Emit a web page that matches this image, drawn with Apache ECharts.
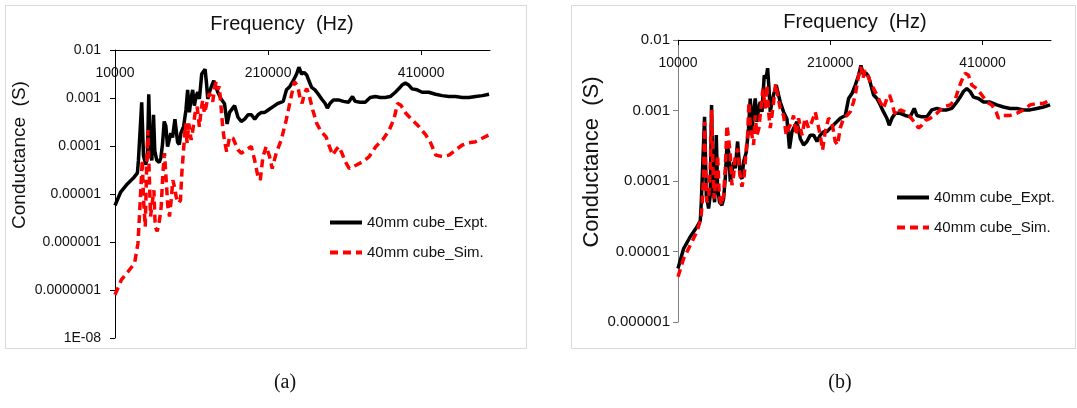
<!DOCTYPE html>
<html>
<head>
<meta charset="utf-8">
<script src="https://cdn.jsdelivr.net/npm/echarts@6/dist/echarts.min.js"></script>
<style>
  html, body { margin: 0; padding: 0; background: #ffffff; }
  #chart { width: 1077px; height: 408px; }
</style>
</head>
<body>
<div id="chart"></div>
<script>
// Measured conductance of the 40 mm cube (shared by both panels)
const freqExpt = [10000, 17400, 26100, 35000, 39300, 40600, 43200, 44900, 47200, 50200, 52400, 54100, 56000, 58100, 60300, 62000, 64600, 67800, 69900, 72100, 74300, 76400, 78700, 80900, 83000, 85200, 88300, 91800, 94000, 96100, 99700, 102700, 104900, 107200, 109300, 111500, 113700, 115800, 118100, 120300, 123300, 125900, 127700, 129500, 131200, 133400, 135500, 139100, 142100, 144300, 148700, 153100, 156500, 159700, 162000, 166300, 170700, 175000, 179400, 183800, 188200, 192600, 196900, 201300, 205700, 210100, 216600, 223200, 229800, 234100, 238500, 242900, 247300, 250300, 253800, 257300, 260400, 263400, 266900, 271300, 275700, 280000, 284400, 287500, 291000, 295400, 301900, 308500, 315100, 320300, 323800, 330400, 336900, 343500, 350100, 356600, 363200, 369700, 376300, 380700, 385000, 389400, 393800, 398200, 404700, 411300, 420000, 428800, 437500, 446300, 455000, 463800, 472500, 481300, 490000, 498800];
const condExpt = [5.75e-6, 1.10e-5, 1.62e-5, 2.24e-5, 2.75e-5, 5.0e-5, 5.0e-5, 8.13e-4, 6.31e-5, 4.07e-5, 6.31e-5, 1.20e-3, 7.94e-5, 5.0e-5, 4.47e-4, 7.94e-5, 5.0e-5, 4.57e-5, 5.62e-5, 1.10e-4, 3.24e-4, 2.63e-4, 9.77e-5, 1.35e-4, 1.86e-4, 1.51e-4, 3.63e-4, 1.20e-4, 1.07e-4, 1.86e-4, 2.57e-4, 5.62e-4, 1.48e-3, 5.01e-4, 9.55e-4, 1.48e-3, 6.92e-4, 1.07e-3, 1.32e-3, 9.55e-4, 3.16e-3, 2.88e-3, 3.98e-3, 2.09e-3, 9.55e-4, 1.32e-3, 1.66e-3, 2.29e-3, 1.66e-3, 1.32e-3, 9.55e-4, 7.59e-4, 2.88e-4, 5.01e-4, 5.01e-4, 6.92e-4, 3.98e-4, 3.24e-4, 3.63e-4, 4.47e-4, 4.47e-4, 3.63e-4, 4.47e-4, 5.01e-4, 5.01e-4, 5.62e-4, 6.61e-4, 7.76e-4, 8.51e-4, 1.48e-3, 1.74e-3, 2.29e-3, 3.16e-3, 4.37e-3, 3.16e-3, 3.39e-3, 3.02e-3, 2.29e-3, 1.66e-3, 1.48e-3, 1.20e-3, 9.55e-4, 7.76e-4, 6.17e-4, 7.76e-4, 9.12e-4, 9.12e-4, 8.51e-4, 8.13e-4, 1.07e-3, 8.51e-4, 8.13e-4, 8.13e-4, 1.02e-3, 1.07e-3, 1.02e-3, 1.02e-3, 1.07e-3, 1.32e-3, 1.55e-3, 1.86e-3, 2.04e-3, 1.86e-3, 1.55e-3, 1.48e-3, 1.32e-3, 1.32e-3, 1.20e-3, 1.12e-3, 1.07e-3, 1.07e-3, 1.02e-3, 1.02e-3, 1.07e-3, 1.12e-3, 1.20e-3];

// Simulated conductance, panel (a)
const freqSimA = [10000, 18250, 26940, 35620, 39970, 42140, 44310, 45610, 47350, 49520, 51690, 53000, 54730, 56470, 58640, 60810, 62550, 65160, 68200, 70370, 72540, 74710, 76880, 79050, 81230, 83400, 85570, 87740, 89910, 92950, 95560, 97290, 99900, 102070, 104240, 106410, 109460, 111630, 114670, 117280, 120310, 122490, 124660, 126830, 129000, 131170, 133340, 135510, 137680, 139860, 142030, 144200, 146370, 148540, 150710, 152880, 155920, 159800, 164200, 170700, 175000, 181600, 188100, 192400, 196800, 199800, 203300, 207600, 212000, 215400, 220600, 227200, 233700, 240200, 244500, 248900, 251900, 254500, 257600, 260600, 264100, 268400, 273600, 279300, 285800, 290100, 294500, 298800, 302300, 306600, 311000, 316200, 324900, 333600, 342200, 350900, 359600, 368300, 374800, 379200, 383500, 390000, 398700, 407400, 416100, 422600, 429100, 437800, 446500, 455200, 463900, 472500, 481200, 489900, 498600];
const condSimA = [7.94e-8, 1.62e-7, 2.40e-7, 3.63e-7, 9.33e-7, 3.98e-6, 1.95e-5, 5.13e-5, 7.41e-6, 2.09e-6, 6.03e-5, 2.14e-4, 2.69e-5, 3.39e-6, 6.46e-6, 1.20e-5, 2.09e-6, 1.66e-6, 2.88e-6, 5.50e-6, 2.69e-5, 7.08e-5, 1.95e-5, 5.50e-6, 3.39e-6, 7.41e-6, 1.95e-5, 1.41e-5, 8.71e-6, 6.46e-6, 7.41e-6, 2.69e-5, 9.77e-5, 2.95e-4, 1.15e-4, 2.95e-4, 1.33e-4, 2.14e-4, 4.79e-4, 6.61e-4, 2.51e-4, 5.62e-4, 9.12e-4, 4.79e-4, 6.61e-4, 9.77e-4, 1.26e-3, 1.07e-3, 8.32e-4, 1.48e-3, 2.19e-3, 1.48e-3, 1.74e-3, 6.61e-4, 2.51e-4, 1.33e-4, 7.59e-5, 1.55e-4, 1.45e-4, 8.32e-5, 7.08e-5, 8.32e-5, 9.77e-5, 5.13e-5, 2.29e-5, 1.95e-5, 6.03e-5, 9.77e-5, 6.03e-5, 3.39e-5, 7.08e-5, 1.33e-4, 3.47e-4, 1.07e-3, 2.19e-3, 1.74e-3, 9.77e-4, 7.76e-4, 1.26e-3, 1.58e-3, 1.07e-3, 5.62e-4, 2.95e-4, 2.00e-4, 1.55e-4, 9.77e-5, 6.46e-5, 8.32e-5, 9.77e-5, 7.08e-5, 4.68e-5, 3.39e-5, 3.98e-5, 4.68e-5, 6.03e-5, 9.77e-5, 1.33e-4, 2.14e-4, 3.80e-4, 7.76e-4, 7.08e-4, 4.79e-4, 3.47e-4, 2.51e-4, 1.70e-4, 1.15e-4, 6.46e-5, 6.03e-5, 6.46e-5, 8.32e-5, 1.05e-4, 1.17e-4, 1.23e-4, 1.45e-4, 1.70e-4];

// Simulated conductance, panel (b)
const freqSimB = [10000, 17400, 26150, 34900, 40160, 41910, 43660, 44970, 46290, 48040, 50230, 52410, 54160, 55920, 57670, 59860, 62040, 64230, 66860, 69920, 72110, 74300, 76490, 78680, 80860, 83050, 85240, 88740, 90930, 94000, 97060, 99690, 101400, 103200, 104900, 107100, 109300, 111500, 113700, 116300, 118900, 121600, 124600, 126800, 129000, 131200, 133400, 135600, 138200, 140800, 144300, 148700, 152200, 155300, 159600, 161800, 165300, 168400, 172800, 177100, 181500, 185900, 190300, 196800, 199900, 203400, 207800, 212200, 216500, 219600, 223100, 227500, 231900, 236200, 240600, 243700, 245900, 248100, 250200, 252900, 255900, 259000, 262500, 266900, 271300, 275600, 280000, 284400, 287900, 291000, 294000, 297500, 301900, 308500, 315000, 321600, 326000, 330300, 334700, 341300, 350000, 358800, 367500, 374100, 378500, 382900, 387200, 391600, 396000, 402600, 409100, 415700, 422300, 427900, 431000, 437600, 446300, 455100, 463800, 472600, 481300, 490100, 498900];
const condSimB = [4.37e-6, 7.94e-6, 1.23e-5, 1.91e-5, 2.95e-5, 5.01e-5, 1.20e-4, 6.92e-4, 1.20e-4, 5.01e-5, 5.62e-5, 1.51e-4, 1.02e-3, 1.51e-4, 5.62e-5, 1.10e-4, 2.34e-4, 6.31e-5, 4.57e-5, 6.31e-5, 1.51e-4, 6.17e-4, 3.98e-4, 2.34e-4, 8.71e-5, 1.20e-4, 2.34e-4, 2.88e-4, 1.35e-4, 8.32e-5, 1.20e-4, 2.88e-4, 4.47e-4, 1.32e-3, 6.17e-4, 4.47e-4, 3.24e-4, 8.51e-4, 4.47e-4, 5.62e-4, 1.07e-3, 2.04e-3, 1.07e-3, 2.29e-3, 9.55e-4, 5.62e-4, 8.51e-4, 1.32e-3, 2.40e-3, 1.66e-3, 1.07e-3, 8.51e-4, 4.47e-4, 5.62e-4, 6.92e-4, 8.51e-4, 4.47e-4, 7.76e-4, 4.47e-4, 7.76e-4, 5.62e-4, 6.92e-4, 9.55e-4, 4.47e-4, 2.75e-4, 5.01e-4, 7.76e-4, 6.92e-4, 3.63e-4, 3.24e-4, 5.62e-4, 7.76e-4, 8.51e-4, 9.55e-4, 1.32e-3, 1.86e-3, 2.57e-3, 3.55e-3, 4.17e-3, 2.88e-3, 3.72e-3, 3.16e-3, 2.57e-3, 2.04e-3, 1.66e-3, 1.32e-3, 1.07e-3, 1.48e-3, 1.66e-3, 1.32e-3, 9.55e-4, 8.51e-4, 1.02e-3, 9.55e-4, 8.13e-4, 6.61e-4, 5.62e-4, 6.17e-4, 7.24e-4, 7.76e-4, 9.12e-4, 1.12e-3, 1.20e-3, 1.41e-3, 2.04e-3, 2.69e-3, 3.39e-3, 3.16e-3, 2.29e-3, 2.04e-3, 1.66e-3, 1.32e-3, 1.20e-3, 9.55e-4, 7.76e-4, 8.51e-4, 8.51e-4, 9.12e-4, 1.02e-3, 1.20e-3, 1.26e-3, 1.26e-3, 1.41e-3];

// Axis ticks and labels
const xTickValues = [10000, 210000, 410000];
const yTickLabelsA = ['1E-08', '0.0000001', '0.000001', '0.00001', '0.0001', '0.001', '0.01'];   // 1e-8 .. 1e-2
const yTickLabelsB = ['0.000001', '0.00001', '0.0001', '0.001', '0.01'];                       // 1e-6 .. 1e-2
const seriesNames = ['40mm cube_Expt.', '40mm cube_Sim.'];
const panelCaptions = ['(a)', '(b)'];
const xTitle = 'Frequency  (Hz)';
const yTitle = 'Conductance  (S)';

const FONT = 'Liberation Sans, Arial, sans-serif';

function zip(xs, ys) { return xs.map((x, i) => [x, ys[i]]); }

function xAxisFor(gridIndex) {
  return {
    gridIndex, type: 'value', position: 'top',
    min: 10000, max: 500000, interval: 200000,
    axisLine: { show: true, onZero: false, lineStyle: { color: '#000', width: 1 } },
    axisTick: { show: true, inside: true, length: 5, customValues: xTickValues, lineStyle: { color: '#000' } },
    axisLabel: {
      inside: true, margin: 16, customValues: xTickValues, color: '#111', fontFamily: FONT, fontSize: 14,
      formatter: v => String(Math.round(v))
    },
    splitLine: { show: false }
  };
}

function yAxisFor(gridIndex, minExp, labels, opts) {
  return {
    gridIndex, type: 'log', logBase: 10,
    min: Math.pow(10, minExp), max: 0.01,
    axisLine: { show: true, lineStyle: { color: opts.lineColor, width: 1 } },
    axisTick: { show: true, inside: false, length: 5, lineStyle: { color: opts.lineColor } },
    axisLabel: {
      margin: opts.margin, color: '#111', fontFamily: FONT, fontSize: opts.fontSize,
      formatter: v => labels[Math.round(Math.log10(v)) - minExp]
    },
    splitLine: { show: false }
  };
}

const exptStyle = { color: '#000000', width: 3.5 };
const simStyle = { color: '#ff0000', width: 3.5, type: [8, 5] };

function seriesFor(idx, simFreq, simCond) {
  return [
    { name: seriesNames[0], type: 'line', xAxisIndex: idx, yAxisIndex: idx, showSymbol: false, symbol: 'none',
      data: zip(freqExpt, condExpt), lineStyle: exptStyle, itemStyle: { color: '#000000' }, animation: false, z: 2 },
    { name: seriesNames[1], type: 'line', xAxisIndex: idx, yAxisIndex: idx, showSymbol: false, symbol: 'none',
      data: zip(simFreq, simCond), lineStyle: simStyle, itemStyle: { color: '#ff0000' }, animation: false, z: 3 }
  ];
}

// Legend keys show only the line sample (the marker is made transparent)
function legendAt(left, top) {
  return {
    orient: 'vertical', left, top, padding: 0,
    itemWidth: 32, itemHeight: 14, itemGap: 15,
    data: seriesNames, selectedMode: false,
    itemStyle: { opacity: 0 },
    lineStyle: { width: 4 },
    textStyle: { color: '#111', fontFamily: FONT, fontSize: 15 }
  };
}

function text(x, y, str, size, extra) {
  return Object.assign({
    type: 'text', x, y, silent: true,
    style: { text: str, font: size + 'px ' + FONT, fill: '#111', textAlign: 'center', textVerticalAlign: 'middle' }
  }, extra || {});
}

const chart = echarts.init(document.getElementById('chart'), null, { renderer: 'canvas' });
chart.setOption({
  backgroundColor: '#ffffff',
  animation: false,
  grid: [
    { left: 115, top: 50, width: 375, height: 288 },
    { left: 678, top: 40, width: 373, height: 282 }
  ],
  xAxis: [xAxisFor(0), xAxisFor(1)],
  yAxis: [
    yAxisFor(0, -8, yTickLabelsA, { lineColor: '#000', margin: 14, fontSize: 14 }),
    yAxisFor(1, -6, yTickLabelsB, { lineColor: '#7f7f7f', margin: 8, fontSize: 15 })
  ],
  legend: [legendAt(328, 215), legendAt(895, 190)],
  series: [].concat(seriesFor(0, freqSimA, condSimA), seriesFor(1, freqSimB, condSimB)),
  graphic: [
    { type: 'rect', shape: { x: 5.5, y: 5.5, width: 521, height: 343 }, style: { fill: 'none', stroke: '#d9d9d9', lineWidth: 1 }, silent: true, z: -1 },
    { type: 'rect', shape: { x: 571.5, y: 5.5, width: 504, height: 343 }, style: { fill: 'none', stroke: '#d9d9d9', lineWidth: 1 }, silent: true, z: -1 },
    text(282, 24, xTitle, 20),
    text(855, 22, xTitle, 20),
    text(20, 155, yTitle, 19, { rotation: Math.PI / 2 }),
    text(592, 162, yTitle, 22, { rotation: Math.PI / 2 }),
    {
      type: 'text', x: 285, y: 383, silent: true,
      style: { text: panelCaptions[0], font: '20px "Liberation Serif", serif', fill: '#111', textAlign: 'center', textVerticalAlign: 'middle' }
    },
    {
      type: 'text', x: 840, y: 383, silent: true,
      style: { text: panelCaptions[1], font: '20px "Liberation Serif", serif', fill: '#111', textAlign: 'center', textVerticalAlign: 'middle' }
    }
  ]
});
</script>
</body>
</html>
